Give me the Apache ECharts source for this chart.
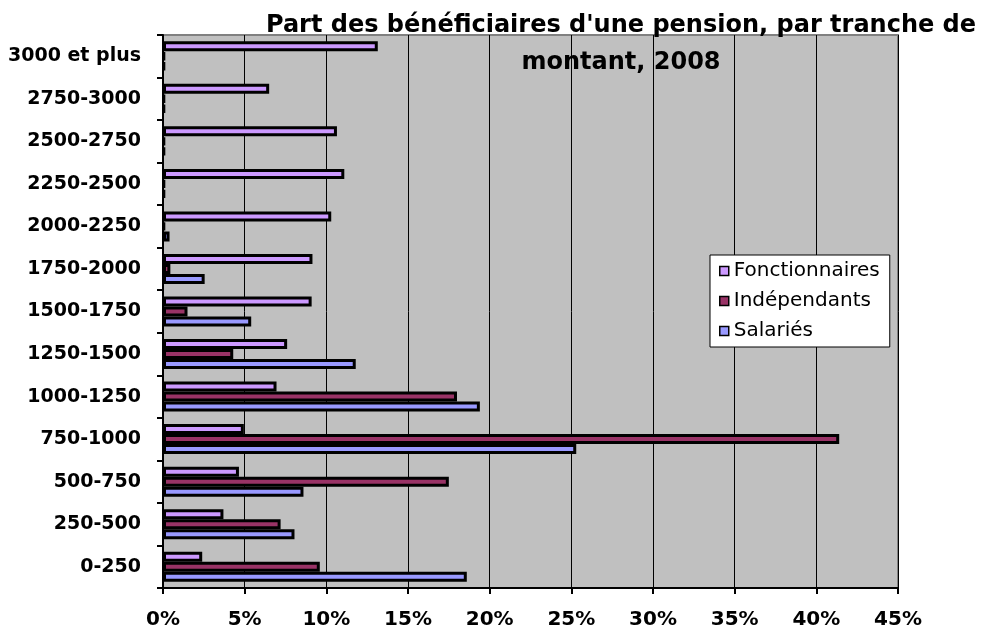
<!DOCTYPE html>
<html>
<head>
<meta charset="utf-8">
<script src="https://cdn.jsdelivr.net/npm/echarts@6/dist/echarts.min.js"></script>
<style>
  html, body { margin: 0; padding: 0; background: #fff; }
  #chart { width: 985px; height: 635px; }
</style>
</head>
<body>
<div id="chart"></div>
<script>
// tranches de montant, du bas vers le haut
const tranches = ['0-250', '250-500', '500-750', '750-1000', '1000-1250', '1250-1500',
  '1500-1750', '1750-2000', '2000-2250', '2250-2500', '2500-2750', '2750-3000', '3000 et plus']

// parts en %
const fonctionnaires = [2.4, 3.7, 4.65, 4.95, 6.95, 7.6, 9.1, 9.15, 10.3, 11.1, 10.65, 6.5, 13.15]
const independants = [9.6, 7.2, 17.5, 41.4, 18.0, 4.3, 1.5, 0.45, 0.1, 0.1, 0.1, 0.1, 0.1]
const salaries = [18.6, 8.05, 8.6, 25.3, 19.4, 11.8, 5.4, 2.55, 0.4, 0.1, 0.1, 0.1, 0.1]

const xTicks = { min: 0, max: 45, interval: 5 }

const chart = echarts.init(document.getElementById('chart'))

const barStyle = (color) => ({
  color: color,
  borderColor: '#000',
  borderWidth: 3
})

chart.setOption({
  animation: false,
  textStyle: { fontFamily: 'DejaVu Sans' },
  title: {
    text: "Part des bénéficiaires d'une pension, par tranche de\nmontant, 2008",
    left: 616,
    top: 2,
    textAlign: 'center',
    textStyle: {
      fontFamily: 'DejaVu Sans',
      fontWeight: 'bold',
      fontSize: 24,
      lineHeight: 37,
      color: '#000'
    }
  },
  legend: {
    orient: 'vertical',
    left: 710,
    top: 255,
    padding: [6, 10, 6, 9],
    itemGap: 10,
    itemWidth: 9,
    itemHeight: 9,
    icon: 'rect',
    backgroundColor: '#fff',
    borderColor: '#000',
    borderWidth: 1,
    data: ['Fonctionnaires', 'Indépendants', 'Salariés'],
    itemStyle: { borderColor: '#000', borderWidth: 1.5 },
    textStyle: {
      fontFamily: 'DejaVu Sans',
      fontSize: 20,
      color: '#000'
    }
  },
  grid: {
    left: 163,
    right: 87,
    top: 35,
    bottom: 47,
    show: true,
    backgroundColor: '#c0c0c0',
    borderColor: '#808080',
    borderWidth: 2
  },
  xAxis: {
    type: 'value',
    min: xTicks.min,
    max: xTicks.max,
    interval: xTicks.interval,
    axisLine: { show: true, lineStyle: { color: '#000', width: 2 } },
    axisTick: { show: true, length: 6, lineStyle: { color: '#000', width: 2 } },
    axisLabel: {
      formatter: '{value}%',
      margin: 22,
      fontFamily: 'DejaVu Sans',
      fontWeight: 'bold',
      fontSize: 20,
      color: '#000'
    },
    splitLine: { show: true, lineStyle: { color: '#000', width: 1 } }
  },
  yAxis: {
    type: 'category',
    data: tranches,
    axisLine: { show: true, lineStyle: { color: '#000', width: 2 } },
    axisTick: { show: true, length: 6, lineStyle: { color: '#000', width: 2 } },
    axisLabel: {
      margin: 22,
      fontFamily: 'DejaVu Sans',
      fontWeight: 'bold',
      fontSize: 19,
      color: '#000'
    }
  },
  series: [
    {
      name: 'Fonctionnaires',
      type: 'bar',
      barWidth: 10,
      barGap: '0%',
      itemStyle: barStyle('#cc99ff'),
      data: fonctionnaires
    },
    {
      name: 'Indépendants',
      type: 'bar',
      barWidth: 10,
      barGap: '0%',
      itemStyle: barStyle('#993366'),
      data: independants
    },
    {
      name: 'Salariés',
      type: 'bar',
      barWidth: 10,
      barGap: '0%',
      itemStyle: barStyle('#9999ff'),
      data: salaries
    }
  ]
})
</script>
</body>
</html>
